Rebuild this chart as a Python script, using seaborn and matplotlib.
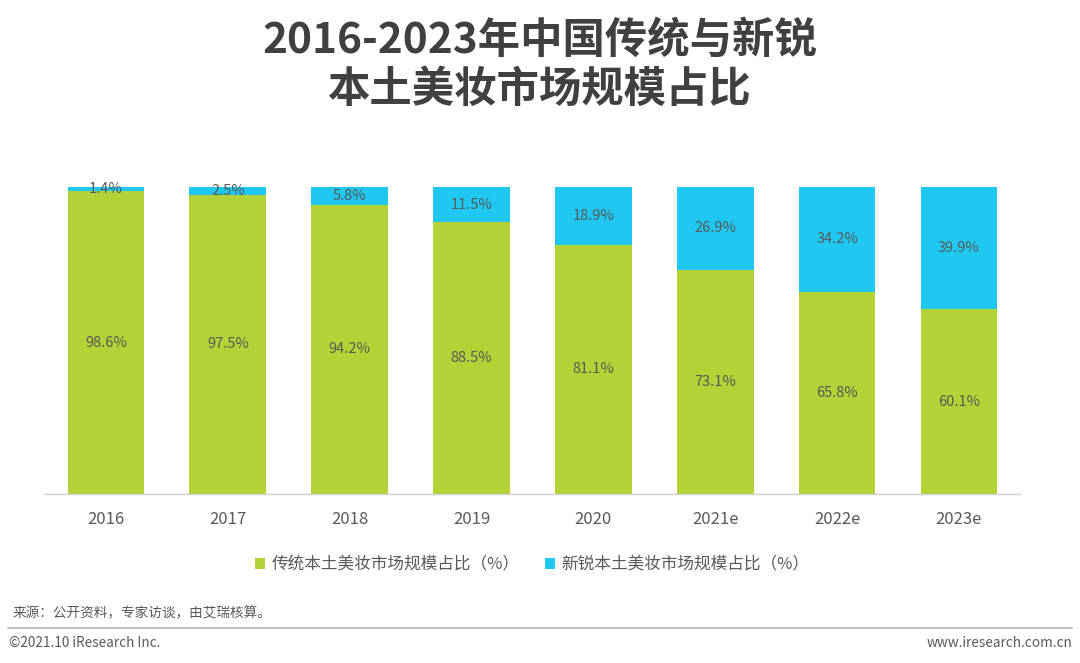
import pandas as pd
import matplotlib.pyplot as plt
import seaborn as sns

years = ['2016', '2017', '2018', '2019', '2020', '2021e', '2022e', '2023e']
traditional = [98.6, 97.5, 94.2, 88.5, 81.1, 73.1, 65.8, 60.1]
emerging = [1.4, 2.5, 5.8, 11.5, 18.9, 26.9, 34.2, 39.9]
legend_labels = ['传统本土美妆市场规模占比（%）', '新锐本土美妆市场规模占比（%）']

GREEN = '#b2d235'
CYAN = '#1ec8f0'
TEXT = '#595959'

sns.set_theme(style='white')
plt.rcParams['font.family'] = ['Noto Sans CJK SC', 'DejaVu Sans']

df = pd.DataFrame({'year': years, 'trad': traditional, 'new': emerging})

fig = plt.figure(figsize=(10.8, 6.63), dpi=100)
ax = fig.add_axes([0.0417, 0.2549, 0.9026, 0.4631])

sns.barplot(data=df, x='year', y='trad', color=GREEN, width=0.63,
            saturation=1, ax=ax, label=legend_labels[0], linewidth=0)
sns.barplot(data=df, x='year', y='new', color=CYAN, width=0.63,
            saturation=1, ax=ax, bottom=df['trad'], label=legend_labels[1], linewidth=0)

for i, (t, n) in enumerate(zip(traditional, emerging)):
    ax.text(i, t / 2, f'{t:.1f}%', ha='center', va='center', fontsize=10.5, color=TEXT)
    ax.text(i, t + n / 2, f'{n:.1f}%', ha='center', va='center', fontsize=10.5, color=TEXT)

ax.set_ylim(0, 100)
ax.set_xlim(-0.5, len(years) - 0.5)
ax.set_xlabel('')
ax.set_ylabel('')
ax.set_yticks([])
ax.tick_params(axis='x', labelsize=12, colors=TEXT, length=0, pad=12)
for s in ['top', 'right', 'left']:
    ax.spines[s].set_visible(False)
ax.spines['bottom'].set_color('#d0d0d0')
ax.spines['bottom'].set_linewidth(1)

ax.legend(loc='upper center', bbox_to_anchor=(0.5, -0.155), ncol=2, frameon=False,
          fontsize=12, handlelength=0.6, handleheight=0.6, handletextpad=0.4,
          columnspacing=1.5, labelcolor=TEXT)

fig.text(0.5, 0.938, '2016-2023年中国传统与新锐', ha='center', va='center',
         fontsize=30.5, fontweight='bold', color='#404040')
fig.text(0.5, 0.865, '本土美妆市场规模占比', ha='center', va='center',
         fontsize=30.5, fontweight='bold', color='#404040')

fig.text(0.012, 1 - 613 / 663, '来源：公开资料，专家访谈，由艾瑞核算。', ha='left', va='center',
         fontsize=9.8, color=TEXT)
fig.add_artist(plt.Line2D([0.007, 0.993], [1 - 628 / 663] * 2, color='#bfbfbf', lw=1.5))
fig.text(0.008, 1 - 643 / 663, '©2021.10 iResearch Inc.', ha='left', va='center',
         fontsize=9.8, color=TEXT)
fig.text(0.993, 1 - 643 / 663, 'www.iresearch.com.cn', ha='right', va='center',
         fontsize=9.8, color=TEXT)

fig.savefig('out.png', dpi=100)
